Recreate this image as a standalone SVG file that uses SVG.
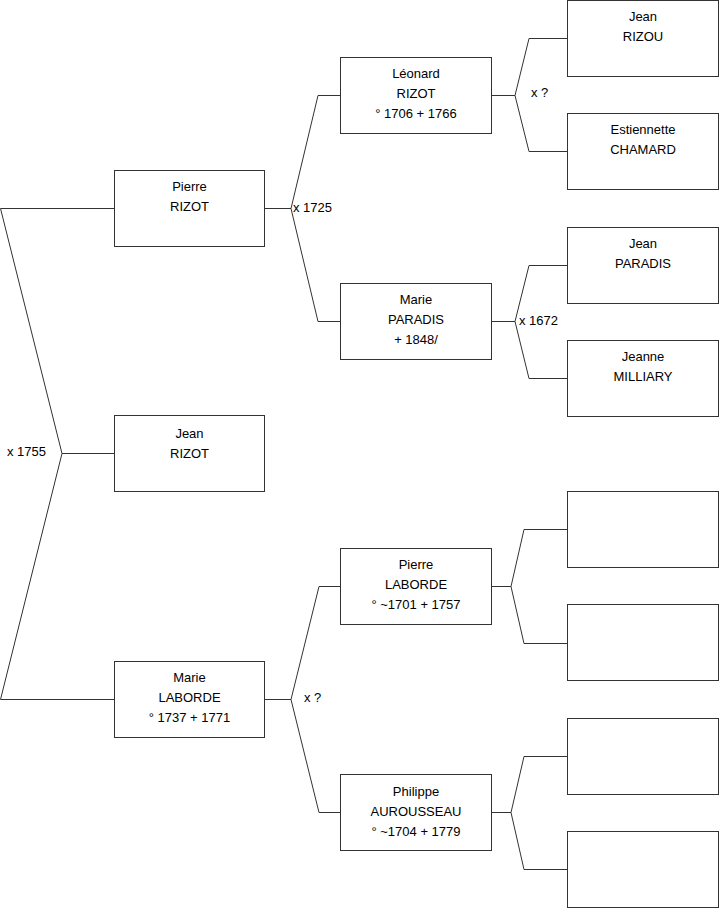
<svg xmlns="http://www.w3.org/2000/svg" width="719" height="908" viewBox="0 0 719 908">
<style>
.box{fill:#fff;stroke:#333;stroke-width:1}
.t{font-family:"Liberation Sans",Arial,sans-serif;font-size:13px;fill:#000;text-anchor:middle}
.l{font-family:"Liberation Sans",Arial,sans-serif;font-size:13px;fill:#000}
.c{fill:none;stroke:#333;stroke-width:1}
</style>
<rect width="719" height="908" fill="#fff"/>
<g id="connectors">
<polyline class="c" points="114,208.5 0.5,208.5 62,453.5 0.5,699.5 114,699.5"/>
<line class="c" x1="62" y1="453.5" x2="114" y2="453.5"/>
<polyline class="c" points="265,208.5 291,208.5"/>
<polyline class="c" points="340,95.5 318,95.5 291,208.5 318,321.5 340,321.5"/>
<polyline class="c" points="492,95.5 515,95.5"/>
<polyline class="c" points="567,38.5 529,38.5 515,95.5 529,151.5 567,151.5"/>
<polyline class="c" points="492,321.5 515,321.5"/>
<polyline class="c" points="567,265.5 529,265.5 515,321.5 529,378.5 567,378.5"/>
<polyline class="c" points="265,699.5 291,699.5"/>
<polyline class="c" points="340,586.5 319,586.5 291,699.5 319,812.5 340,812.5"/>
<polyline class="c" points="492,586.5 511,586.5"/>
<polyline class="c" points="567,529.5 524,529.5 511,586.5 524,643.5 567,643.5"/>
<polyline class="c" points="492,812.5 511,812.5"/>
<polyline class="c" points="567,756.5 524,756.5 511,812.5 524,869.5 567,869.5"/>
<text class="l" x="7" y="456">x 1755</text>
<text class="l" x="293" y="212">x 1725</text>
<text class="l" x="531" y="97">x ?</text>
<text class="l" x="519" y="325">x 1672</text>
<text class="l" x="304" y="702">x ?</text>
</g>
<g id="pierre-rizot"><rect class="box" x="114.5" y="170.5" width="150" height="76"/><text class="t" x="189.5" y="191">Pierre</text><text class="t" x="189.5" y="211">RIZOT</text></g>
<g id="jean-rizot"><rect class="box" x="114.5" y="415.5" width="150" height="76"/><text class="t" x="189.5" y="438">Jean</text><text class="t" x="189.5" y="458">RIZOT</text></g>
<g id="marie-laborde"><rect class="box" x="114.5" y="661.5" width="150" height="76"/><text class="t" x="189.5" y="682">Marie</text><text class="t" x="189.5" y="702">LABORDE</text><text class="t" x="189.5" y="722">° 1737 + 1771</text></g>
<g id="leonard-rizot"><rect class="box" x="340.5" y="57.5" width="151" height="76"/><text class="t" x="416" y="78">Léonard</text><text class="t" x="416" y="98">RIZOT</text><text class="t" x="416" y="118">° 1706 + 1766</text></g>
<g id="marie-paradis"><rect class="box" x="340.5" y="283.5" width="151" height="76"/><text class="t" x="416" y="304">Marie</text><text class="t" x="416" y="324">PARADIS</text><text class="t" x="416" y="344">+ 1848/</text></g>
<g id="pierre-laborde"><rect class="box" x="340.5" y="548.5" width="151" height="76"/><text class="t" x="416" y="569">Pierre</text><text class="t" x="416" y="589">LABORDE</text><text class="t" x="416" y="609">° ~1701 + 1757</text></g>
<g id="philippe-aurousseau"><rect class="box" x="340.5" y="774.5" width="151" height="76"/><text class="t" x="416" y="796">Philippe</text><text class="t" x="416" y="816">AUROUSSEAU</text><text class="t" x="416" y="836">° ~1704 + 1779</text></g>
<g id="jean-rizou"><rect class="box" x="567.5" y="0.5" width="151" height="76"/><text class="t" x="643" y="21">Jean</text><text class="t" x="643" y="41">RIZOU</text></g>
<g id="estiennette-chamard"><rect class="box" x="567.5" y="113.5" width="151" height="76"/><text class="t" x="643" y="134">Estiennette</text><text class="t" x="643" y="154">CHAMARD</text></g>
<g id="jean-paradis"><rect class="box" x="567.5" y="227.5" width="151" height="76"/><text class="t" x="643" y="248">Jean</text><text class="t" x="643" y="268">PARADIS</text></g>
<g id="jeanne-milliary"><rect class="box" x="567.5" y="340.5" width="151" height="76"/><text class="t" x="643" y="361">Jeanne</text><text class="t" x="643" y="381">MILLIARY</text></g>
<g id="empty-1"><rect class="box" x="567.5" y="491.5" width="151" height="76"/></g>
<g id="empty-2"><rect class="box" x="567.5" y="604.5" width="151" height="76"/></g>
<g id="empty-3"><rect class="box" x="567.5" y="718.5" width="151" height="76"/></g>
<g id="empty-4"><rect class="box" x="567.5" y="831.5" width="151" height="76"/></g>
</svg>
